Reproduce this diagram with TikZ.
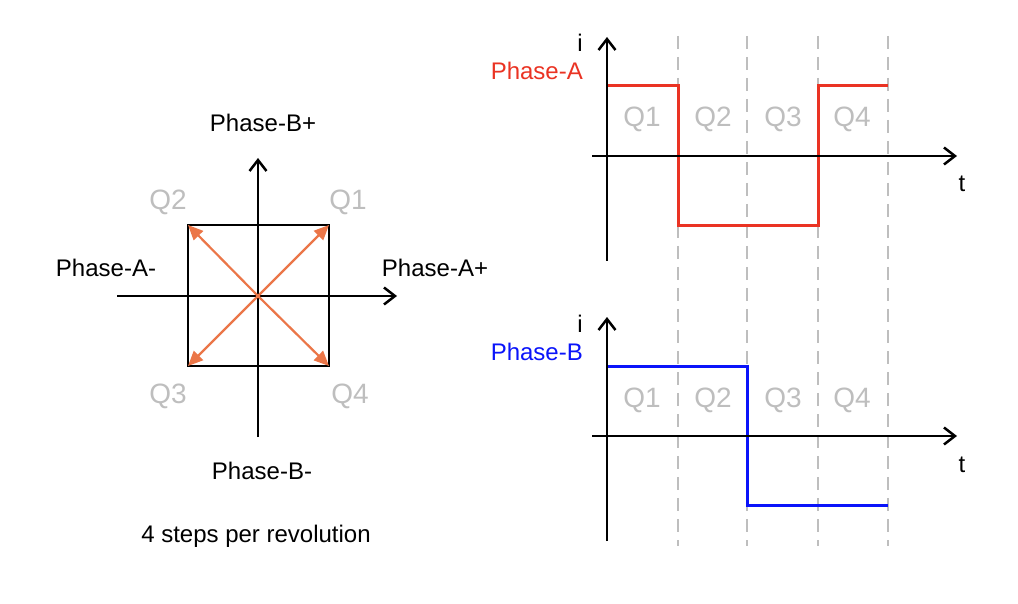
\documentclass[tikz,border=0pt]{standalone}
\usepackage{fontspec}
\setmainfont{Liberation Sans}
\usetikzlibrary{arrows.meta}
\definecolor{qgray}{RGB}{190,190,190}
\definecolor{vecorange}{RGB}{235,118,72}
\definecolor{phred}{RGB}{234,51,35}
\definecolor{phblue}{RGB}{10,20,250}
\tikzset{
  axis/.style={line width=2.5pt,-{Straight Barb[length=11pt,width=17pt]}},
  box/.style={line width=2pt},
  vec/.style={vecorange,line width=2.2pt,-{Triangle[length=15pt,width=13pt]}},
  lbl/.style={font=\fontsize{24}{28}\selectfont,inner sep=0pt,anchor=base},
  qlbl/.style={lbl,font=\fontsize{28}{32}\selectfont,text=qgray},
  guide/.style={qgray,line width=2pt,dash pattern=on 13pt off 8pt},
  sigA/.style={phred,line width=3pt},
  sigB/.style={phblue,line width=3pt}
}
\begin{document}
\begin{tikzpicture}[x=1pt,y=-1pt]
\useasboundingbox (0,0) rectangle (1018,604);
% ---------- phasor diagram ----------
\coordinate (c) at (258,296);
\coordinate (axL) at (117,296);
\coordinate (axR) at (397,296);
\coordinate (axB) at (258,437);
\coordinate (axT) at (258,158);
\coordinate (q1c) at (329,225);
\coordinate (q2c) at (188,225);
\coordinate (q3c) at (188,366);
\coordinate (q4c) at (329,366);
\draw[box] (q2c) rectangle (q4c);
\draw[axis] (axL) -- (axR);
\draw[axis] (axB) -- (axT);
\draw[vec] (c) -- (q1c);
\draw[vec] (c) -- (q2c);
\draw[vec] (c) -- (q3c);
\draw[vec] (c) -- (q4c);
\node[lbl] (bp) at (263,132) {Phase-B+};
\node[lbl] (bm) at (262,479) {Phase-B-};
\node[lbl] (am) at (106,277) {Phase-A-};
\node[lbl] (ap) at (435,277) {Phase-A+};
\node[qlbl] (lq1) at (348,210) {Q1};
\node[qlbl] (lq2) at (168,210) {Q2};
\node[qlbl] (lq3) at (168,403) {Q3};
\node[qlbl] (lq4) at (350,403) {Q4};
\node[lbl] (cap) at (256,542) {4 steps per revolution};
% ---------- guides ----------
\foreach \x/\n in {678/g1,747/g2,818/g3,888/g4}{
  \coordinate (\n t) at (\x,36);
  \coordinate (\n b) at (\x,546);
  \draw[guide] (\n t) -- (\n b);
}
% ---------- Phase-A plot ----------
\coordinate (aiB) at (607,261);
\coordinate (aiT) at (607,37);
\coordinate (atL) at (592,156);
\coordinate (atR) at (957,156);
\node[lbl] (ai) at (580,52) {i};
\node[lbl] (at) at (962,192) {t};
\node[lbl,anchor=base east,text=phred] (pa) at (583,80) {Phase-A};
\node[qlbl] (aq1) at (642,127) {Q1};
\node[qlbl] (aq2) at (713,127) {Q2};
\node[qlbl] (aq3) at (783,127) {Q3};
\node[qlbl] (aq4) at (852,127) {Q4};
\draw[sigA] (607,86) -- (678,86) -- (678,226) -- (818,226) -- (818,86) -- (888,86);
\draw[axis] (atL) -- (atR);
\draw[axis] (aiB) -- (aiT);
% ---------- Phase-B plot ----------
\coordinate (biB) at (607,541);
\coordinate (biT) at (607,317);
\coordinate (btL) at (592,436);
\coordinate (btR) at (957,436);
\node[lbl] (bi) at (580,332) {i};
\node[lbl] (bt) at (962,472) {t};
\node[lbl,anchor=base east,text=phblue] (pb) at (583,360) {Phase-B};
\node[qlbl] (bq1) at (642,407) {Q1};
\node[qlbl] (bq2) at (713,407) {Q2};
\node[qlbl] (bq3) at (783,407) {Q3};
\node[qlbl] (bq4) at (852,407) {Q4};
\draw[sigB] (607,366) -- (747,366) -- (747,505) -- (888,505);
\draw[axis] (btL) -- (btR);
\draw[axis] (biB) -- (biT);
\end{tikzpicture}
\end{document}
